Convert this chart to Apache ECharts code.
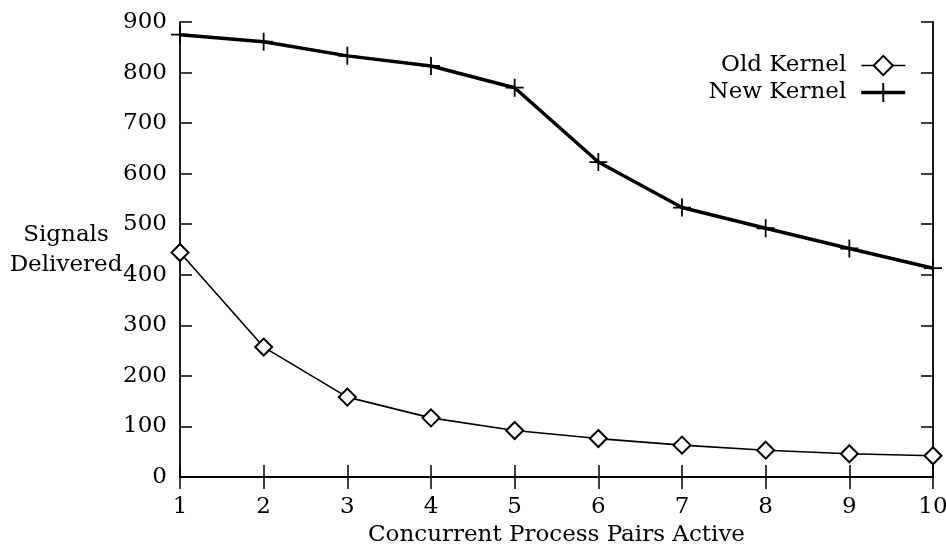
<!DOCTYPE html>
<html>
<head>
<meta charset="utf-8">
<script src="https://cdn.jsdelivr.net/npm/echarts@6/dist/echarts.min.js"></script>
<style>html,body{margin:0;padding:0;background:#fff}#c{width:946px;height:547px}</style>
</head>
<body>
<div id="c"></div>
<script>
const xValues = [1, 2, 3, 4, 5, 6, 7, 8, 9, 10];
const oldKernel = [444, 257, 158, 117, 92, 76, 63, 53, 46, 42];
const newKernel = [875, 861, 833, 813, 770, 623, 533, 492, 452, 413];
const yTicks = [0, 100, 200, 300, 400, 500, 600, 700, 800, 900];

const FONT = 'DejaVu Serif';
const plus = 'path://M-1,-10 L1,-10 L1,-1 L10,-1 L10,1 L1,1 L1,10 L-1,10 L-1,1 L-10,1 L-10,-1 L-1,-1 Z';
const axisCommon = {
  type: 'value',
  axisLine: {show: true, lineStyle: {color: '#000', width: 1.8}},
  axisTick: {show: true, inside: true, length: 12, lineStyle: {color: '#000', width: 1.5}},
  splitLine: {show: false}
};
const chart = echarts.init(document.getElementById('c'), null, {renderer: 'canvas'});
chart.setOption({
  animation: false,
  backgroundColor: '#fff',
  grid: {left: 180, right: 13, top: 22, bottom: 70, outerBoundsMode: 'none', containLabel: false},
  xAxis: [
    Object.assign({}, axisCommon, {
      position: 'bottom', min: 1, max: 10, interval: 1,
      axisLabel: {show: true, margin: 19, color: '#000', fontFamily: FONT, fontSize: 23},
      name: 'Concurrent Process Pairs Active', nameLocation: 'middle', nameGap: 44,
      nameTextStyle: {color: '#000', fontFamily: FONT, fontSize: 23}
    }),
    Object.assign({}, axisCommon, {
      position: 'top', min: 1, max: 10, interval: 1, axisLabel: {show: false}
    })
  ],
  yAxis: [
    Object.assign({}, axisCommon, {
      position: 'left', min: 0, max: 900, interval: 100,
      axisLabel: {show: true, margin: 13, color: '#000', fontFamily: FONT, fontSize: 23,
        formatter: v => yTicks.includes(v) ? String(v) : ''}
    }),
    Object.assign({}, axisCommon, {
      position: 'right', min: 0, max: 900, interval: 100, axisLabel: {show: false}
    })
  ],
  legend: {
    orient: 'vertical', right: 34, top: 49, align: 'right',
    itemWidth: 44, itemHeight: 24, itemGap: 4,
    textStyle: {color: '#000', fontFamily: FONT, fontSize: 23, padding: [0, 10, 0, 0]},
    data: [
      {name: 'Old Kernel', lineStyle: {color: '#000', width: 1.6}},
      {name: 'New Kernel', lineStyle: {color: '#000', width: 3.5}}
    ]
  },
  graphic: [{
    type: 'text', x: 66, y: 250,
    style: {text: 'Signals\nDelivered', fill: '#000', font: '23px "DejaVu Serif"',
      align: 'center', verticalAlign: 'middle', lineHeight: 30}
  }],
  series: [
    {
      name: 'Old Kernel', type: 'line',
      data: xValues.map((x, i) => [x, oldKernel[i]]),
      symbol: 'emptyDiamond', symbolSize: 17,
      lineStyle: {color: '#000', width: 1.6},
      itemStyle: {color: '#000', borderColor: '#000', borderWidth: 1.5}
    },
    {
      name: 'New Kernel', type: 'line',
      data: xValues.map((x, i) => [x, newKernel[i]]),
      symbol: plus, symbolSize: 18,
      lineStyle: {color: '#000', width: 3.5},
      itemStyle: {color: '#000'}
    }
  ]
});
</script>
</body>
</html>
